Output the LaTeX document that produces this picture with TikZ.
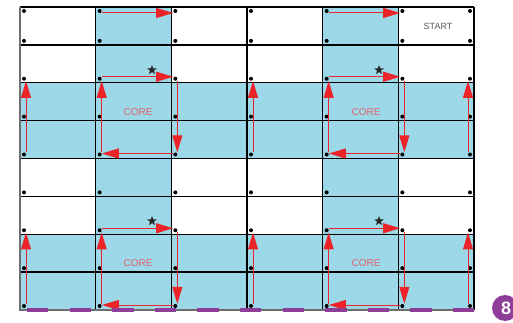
\documentclass[tikz,border=0pt]{standalone}
\usepackage{xcolor}
\usepackage{fontspec}
\newfontfamily\labelfont{Liberation Sans}
\usetikzlibrary{arrows.meta, calc, shapes.geometric}

\definecolor{cellblue}{RGB}{157,216,232}
\definecolor{flowred}{RGB}{236,36,42}
\definecolor{corered}{RGB}{226,98,106}
\definecolor{edgepurple}{RGB}{142,62,152}
\definecolor{startgray}{RGB}{90,90,90}
\definecolor{framegray}{RGB}{110,110,110}

\tikzset{
    dot/.style={circle, fill=black, inner sep=0pt, minimum size=4pt},
    flow/.style={draw=flowred, line width=1pt, -{Triangle[length=17pt, width=10pt]}},
    nudge x/.style={transform canvas={xshift=#1}},
    nudge y/.style={transform canvas={yshift=#1}},
    gridline/.style={line width=1.3pt, black},
    starmark/.style={star, star points=5, star point ratio=2.4, fill=black!85, inner sep=0pt, minimum size=10pt},
    corelabel/.style={text=corered, font=\labelfont\fontsize{10}{12}\selectfont},
}

\begin{document}
\begin{tikzpicture}[x=1pt, y=-1pt]
        \useasboundingbox (0,0) rectangle (513,323);
        \def\cw{75.667}
        \def\ch{37.875}

        % Blue columns and bands
        \foreach \c in {1,4}
            \fill[cellblue] (20+\c*\cw,7) rectangle (20+\c*\cw+\cw,310);
        \foreach \r in {2,6}
            \fill[cellblue] (20,7+\r*\ch) rectangle (474,7+\r*\ch+2*\ch);

        % Grid
        \foreach \i in {1,...,6}
            \draw[gridline] (20+\i*\cw,7) -- (20+\i*\cw,310);
        \foreach \j in {0,...,7}
            \draw[gridline] (20,7+\j*\ch) -- (474,7+\j*\ch);
        \draw[line width=1.3pt, framegray] (20,7) -- (20,310) -- (474,310);

        % Corner dots
        \foreach \i in {0,...,6}
            \foreach \j in {0,...,8} {
                \pgfmathsetmacro\dx{ifthenelse(\i==6,-4,4)}
                \pgfmathsetmacro\dy{ifthenelse(\j==0,4,-4)}
                \node[dot] (d-\i-\j) at (20+\i*\cw+\dx,7+\j*\ch+\dy) {};
            }

        % Top row arrows
        \draw[flow, nudge y=-2pt] (d-1-0) -- (d-2-0);
        \draw[flow, nudge y=-2pt] (d-4-0) -- (d-5-0);

        % Core loops and up arrows
        \foreach \s in {0,4} {
            \pgfmathtruncatemacro\ra{2+\s}
            \pgfmathtruncatemacro\rb{4+\s}
            \foreach \c/\n in {1/2,4/5} {
                \draw[flow, nudge y=2pt] (d-\c-\ra) -- (d-\n-\ra);
                \draw[flow, nudge x=2pt] (d-\n-\ra) -- (d-\n-\rb);
                \draw[flow, nudge y=1pt] (d-\n-\rb) -- (d-\c-\rb);
                \draw[flow, nudge x=2pt] (d-\c-\rb) -- (d-\c-\ra);
            }
            \foreach \c/\off in {0/2pt,3/2pt,6/-2pt}
                \draw[flow, nudge x=\off] (d-\c-\rb) -- (d-\c-\ra);
        }

        % Stars
        \node[starmark] (star-a) at (152,70) {};
        \node[starmark] (star-b) at (379,70) {};
        \node[starmark] (star-c) at (152,221) {};
        \node[starmark] (star-d) at (379,221) {};

        % Labels
        \node[corelabel] (core-a) at (138,112) {CORE};
        \node[corelabel] (core-b) at (366,112) {CORE};
        \node[corelabel] (core-c) at (138,263) {CORE};
        \node[corelabel] (core-d) at (366,263) {CORE};
        \node[text=startgray, font=\labelfont\fontsize{9}{11}\selectfont] (start) at (438,26) {START};

        % Purple edge marks
        \draw[edgepurple, line width=3.5pt, dash pattern=on 21.3pt off 21.3pt] (27,310) -- (474,310);

        % Page badge
        \fill[edgepurple] (505,308) circle (13pt);
        \node[text=white, font=\labelfont\bfseries\fontsize{18}{20}\selectfont] (badge) at (506,308) {8};
    \end{tikzpicture}
\end{document}
